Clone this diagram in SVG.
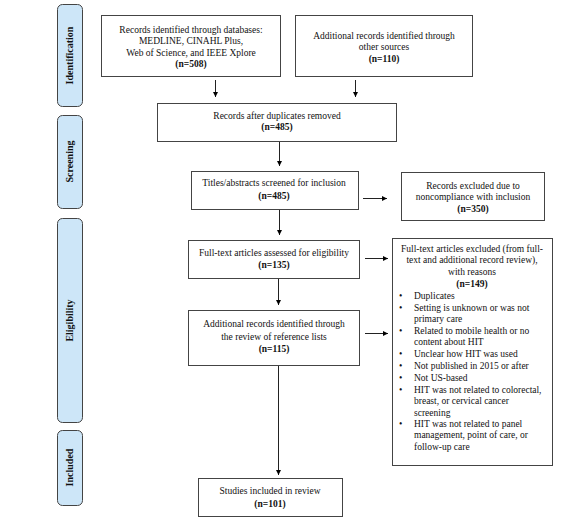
<svg xmlns="http://www.w3.org/2000/svg" width="586" height="527" viewBox="0 0 586 527">
<defs>
<marker id="ah" markerWidth="6" markerHeight="6" refX="5" refY="3" orient="auto" markerUnits="userSpaceOnUse">
<path d="M0,0.5 L5,3 L0,5.5 Z" fill="#000"/>
</marker>
</defs>
<style>
.box{fill:#fff;stroke:#444;stroke-width:1}
.side{fill:#cde6f8;stroke:#444;stroke-width:1}
text{font-family:"Liberation Serif","Times New Roman",serif;font-size:9.5px;fill:#111}
.c{text-anchor:middle}
.b{font-weight:bold}
.st{font-weight:bold;font-size:10px;text-anchor:middle}
.con{stroke:#222;stroke-width:1;fill:none}
</style>
<rect width="586" height="527" fill="#fff"/>

<g id="phase-identification">
<rect class="side" x="57.5" y="4.5" width="25" height="102" rx="5"/>
<text class="st" transform="translate(73,55.5) rotate(-90)">Identification</text>
</g>
<g id="phase-screening">
<rect class="side" x="57.5" y="115.5" width="25" height="93" rx="5"/>
<text class="st" transform="translate(73,161.5) rotate(-90)">Screening</text>
</g>
<g id="phase-eligibility">
<rect class="side" x="57.5" y="218.5" width="25" height="204" rx="5"/>
<text class="st" transform="translate(73,320.5) rotate(-90)">Eligibility</text>
</g>
<g id="phase-included">
<rect class="side" x="57.5" y="430.5" width="25" height="75" rx="5"/>
<text class="st" transform="translate(73,467.5) rotate(-90)">Included</text>
</g>

<g id="connectors">
<line class="con" x1="215.5" y1="80" x2="215.5" y2="97" marker-end="url(#ah)"/>
<line class="con" x1="355.5" y1="80" x2="355.5" y2="97" marker-end="url(#ah)"/>
<line class="con" x1="279.5" y1="142" x2="279.5" y2="166" marker-end="url(#ah)"/>
<line class="con" x1="363" y1="198.5" x2="387" y2="198.5" marker-end="url(#ah)"/>
<line class="con" x1="279.5" y1="210" x2="279.5" y2="235" marker-end="url(#ah)"/>
<line class="con" x1="365" y1="258.5" x2="388" y2="258.5" marker-end="url(#ah)"/>
<line class="con" x1="278.5" y1="278" x2="278.5" y2="305" marker-end="url(#ah)"/>
<line class="con" x1="365" y1="333.5" x2="388" y2="333.5" marker-end="url(#ah)"/>
<line class="con" x1="278.5" y1="365" x2="278.5" y2="475" marker-end="url(#ah)"/>
</g>

<g id="records-databases">
<rect class="box" x="101.5" y="15.5" width="179" height="61"/>
<text class="c" x="191" y="33">Records identified through databases:</text>
<text class="c" x="191" y="44">MEDLINE, CINAHL Plus,</text>
<text class="c" x="191" y="55.5">Web of Science, and IEEE Xplore</text>
<text class="c b" x="191" y="67">(n=508)</text>
</g>
<g id="records-other">
<rect class="box" x="295.5" y="15.5" width="177" height="61"/>
<text class="c" x="384" y="38.5">Additional records identified through</text>
<text class="c" x="384" y="50">other sources</text>
<text class="c b" x="384" y="61.5">(n=110)</text>
</g>
<g id="duplicates-removed">
<rect class="box" x="157.5" y="103.5" width="239" height="38"/>
<text class="c" x="277" y="118.5">Records after duplicates removed</text>
<text class="c b" x="277" y="130">(n=485)</text>
</g>
<g id="screened">
<rect class="box" x="191.5" y="171.5" width="167" height="38"/>
<text class="c" x="274" y="186">Titles/abstracts screened for inclusion</text>
<text class="c b" x="274" y="198.5">(n=485)</text>
</g>
<g id="excluded-screening">
<rect class="box" x="401.5" y="172.5" width="143" height="48"/>
<text class="c" x="473" y="188.5">Records excluded due to</text>
<text class="c" x="473" y="200">noncompliance with inclusion</text>
<text class="c b" x="473" y="211.5">(n=350)</text>
</g>
<g id="fulltext-assessed">
<rect class="box" x="188.5" y="240.5" width="171" height="38"/>
<text class="c" x="274" y="256">Full-text articles assessed for eligibility</text>
<text class="c b" x="274" y="268">(n=135)</text>
</g>
<g id="reference-lists">
<rect class="box" x="188.5" y="310.5" width="171" height="55"/>
<text class="c" x="274" y="327">Additional records identified through</text>
<text class="c" x="274" y="339.5">the review of reference lists</text>
<text class="c b" x="274" y="352">(n=115)</text>
</g>
<g id="excluded-fulltext">
<rect class="box" x="392.5" y="238.5" width="160" height="227"/>
<text class="c" x="472" y="251.5">Full-text articles excluded (from full-</text>
<text class="c" x="472" y="263">text and additional record review),</text>
<text class="c" x="472" y="274.5">with reasons</text>
<text class="c b" x="472" y="286.5">(n=149)</text>
<text x="399" y="298.5">•</text><text x="414" y="298.5">Duplicates</text>
<text x="399" y="310.5">•</text><text x="414" y="310.5">Setting is unknown or was not</text>
<text x="414" y="321.5">primary care</text>
<text x="399" y="333.5">•</text><text x="414" y="333.5">Related to mobile health or no</text>
<text x="414" y="345">content about HIT</text>
<text x="399" y="357">•</text><text x="414" y="357">Unclear how HIT was used</text>
<text x="399" y="368.5">•</text><text x="414" y="368.5">Not published in 2015 or after</text>
<text x="399" y="380.5">•</text><text x="414" y="380.5">Not US-based</text>
<text x="399" y="392.5">•</text><text x="414" y="392.5">HIT was not related to colorectal,</text>
<text x="414" y="404">breast, or cervical cancer</text>
<text x="414" y="415.5">screening</text>
<text x="399" y="427">•</text><text x="414" y="427">HIT was not related to panel</text>
<text x="414" y="438">management, point of care, or</text>
<text x="414" y="449.5">follow-up care</text>
</g>
<g id="included">
<rect class="box" x="198.5" y="478.5" width="144" height="38"/>
<text class="c" x="270" y="494">Studies included in review</text>
<text class="c b" x="270" y="506.5">(n=101)</text>
</g>
</svg>
